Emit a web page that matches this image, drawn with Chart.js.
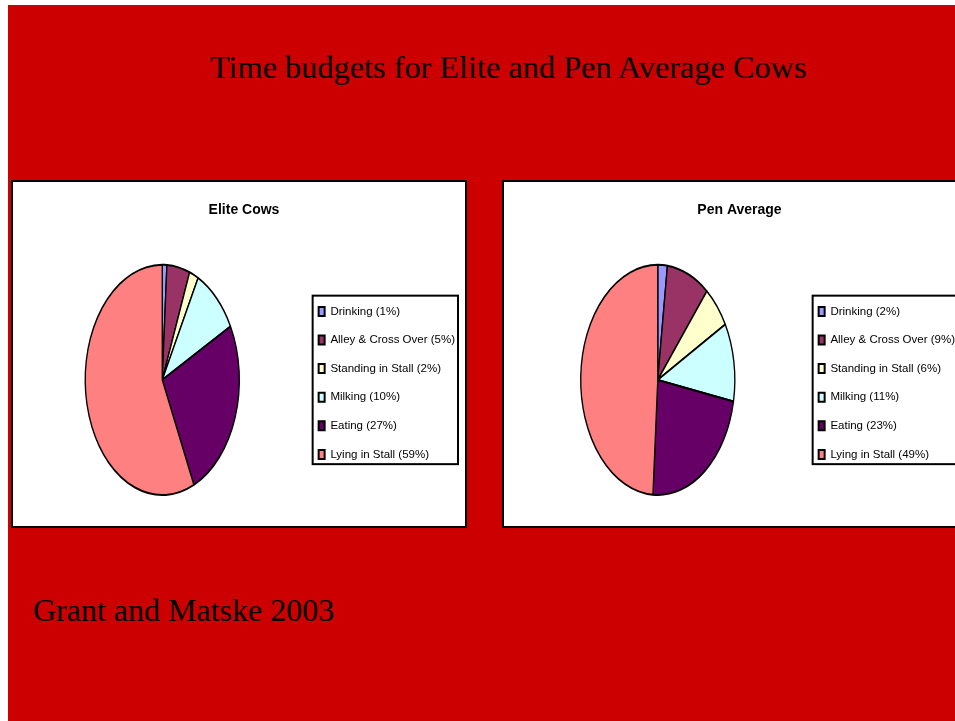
<!DOCTYPE html>
<html>
<head>
<meta charset="utf-8">
<script src="https://cdn.jsdelivr.net/npm/chart.js@4"></script>
<style>
  html, body { margin: 0; padding: 0; background: #fff; overflow: hidden; }
  body { width: 955px; height: 721px; position: relative; }
  #slide { position: absolute; left: 8px; top: 5px; width: 947px; height: 716px; background: #cc0000; }
  .heading { position: absolute; font-family: 'Liberation Serif', 'Times New Roman', serif; font-size: 32.3px; line-height: 32px; color: #000; white-space: nowrap; }
  .panel { position: absolute; top: 180px; height: 344px; border: 2px solid #000; background: #fff; }
  .panel canvas { display: block; }
</style>
</head>
<body>
<div id="slide"></div>
<div class="heading" style="left:210px; top:51px;">Time budgets for Elite and Pen Average Cows</div>
<div class="panel" style="left:11px; width:452px;"><canvas id="eliteChart" width="452" height="344"></canvas></div>
<div class="panel" style="left:502px; width:461px;"><canvas id="penChart" width="461" height="344"></canvas></div>
<div class="heading" style="left:33px; top:594px; font-size:32px;">Grant and Matske 2003</div>

<script>
const activities = ['Drinking', 'Alley & Cross Over', 'Standing in Stall', 'Milking', 'Eating', 'Lying in Stall'];
const eliteShare = [1, 5, 2, 10, 27, 59];
const penShare = [2, 9, 6, 11, 23, 49];
const sliceColors = ['#9999ff', '#993366', '#ffffcc', '#ccffff', '#660066', '#ff8080'];

const labelFont = "'Liberation Sans', Arial, sans-serif";
const PIE_SQUEEZE = 77 / 115; // the pies are drawn as tall ellipses

// squash the pie horizontally around its centre
const squeezePie = {
    id: 'squeezePie',
    beforeDatasetsDraw(chart) {
        const cx = chart.getDatasetMeta(0).data[0].x;
        const ctx = chart.ctx;
        ctx.save();
        ctx.translate(cx, 0);
        ctx.scale(PIE_SQUEEZE, 1);
        ctx.translate(-cx, 0);
    },
    afterDatasetsDraw(chart) {
        chart.ctx.restore();
    }
};

// black frame round the legend
const legendFrame = {
    id: 'legendFrame',
    afterDraw(chart) {
        const boxes = chart.legend.legendHitBoxes;
        if (!boxes || !boxes.length) return;
        const left = Math.min(...boxes.map(b => b.left)) - 6;
        const top = Math.min(...boxes.map(b => b.top)) - 10;
        const right = Math.max(...boxes.map(b => b.left + b.width)) + 3;
        const bottom = Math.max(...boxes.map(b => b.top + b.height)) + 4;
        const ctx = chart.ctx;
        ctx.save();
        ctx.strokeStyle = '#000';
        ctx.lineWidth = 2;
        ctx.strokeRect(left, top, right - left, bottom - top);
        ctx.restore();
    }
};

function makePie(canvasId, title, values) {
    const ctx = document.getElementById(canvasId).getContext('2d');
    return new Chart(ctx, {
        type: 'pie',
        data: {
            labels: activities.map((name, i) => `${name} (${values[i]}%)`),
            datasets: [{
                data: values,
                backgroundColor: sliceColors,
                borderColor: '#000',
                borderWidth: 2
            }]
        },
        options: {
            responsive: false,
            devicePixelRatio: 1,
            animation: false,
            events: [],
            layout: { padding: { left: 10, right: 0, top: 0, bottom: 30 } },
            plugins: {
                title: {
                    display: true,
                    text: title,
                    color: '#000',
                    font: { family: labelFont, size: 14, weight: 'bold' },
                    padding: { top: 20, bottom: 45 }
                },
                legend: {
                    position: 'right',
                    fullSize: false,
                    // empty title only nudges the items down a little
                    title: { display: true, text: '', padding: 0, font: { size: 5 } },
                    labels: {
                        color: '#000',
                        boxWidth: 6,
                        boxHeight: 9,
                        padding: 17.1,
                        font: { family: labelFont, size: 11.5 }
                    }
                },
                tooltip: { enabled: false }
            }
        },
        plugins: [squeezePie, legendFrame]
    });
}

makePie('eliteChart', 'Elite Cows', eliteShare);
makePie('penChart', 'Pen Average', penShare);
</script>
</body>
</html>
